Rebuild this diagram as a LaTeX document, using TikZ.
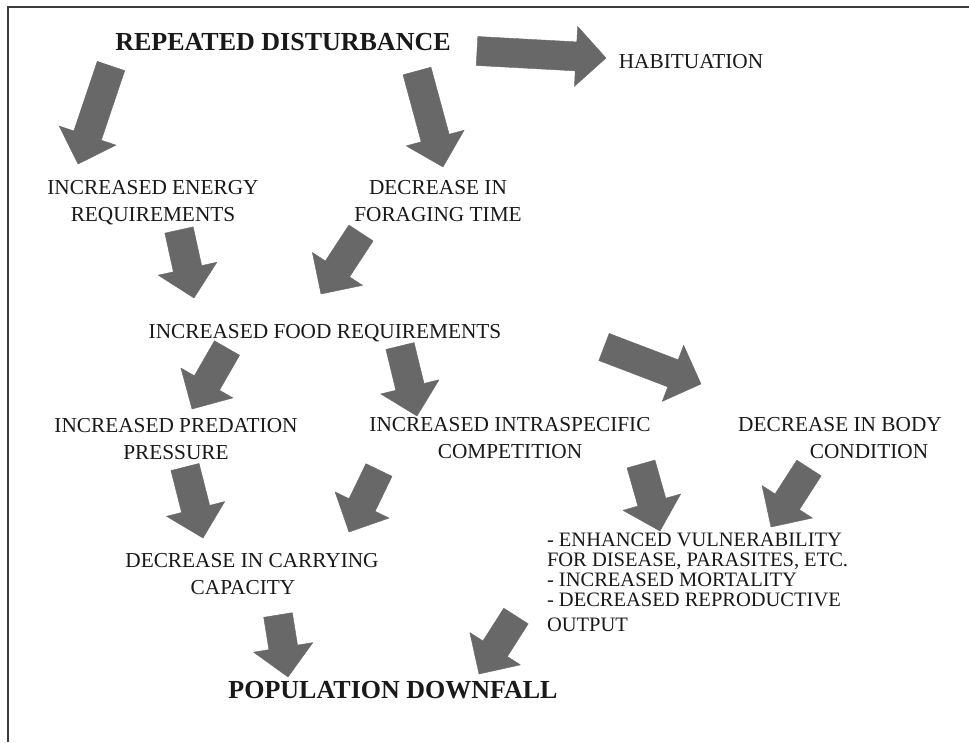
\documentclass[tikz,border=0pt]{standalone}
\usepackage{fontspec}
\setmainfont{Liberation Serif}
\usetikzlibrary{calc}
\definecolor{arrowgray}{RGB}{104,104,104}
\definecolor{textcol}{RGB}{25,25,25}
\definecolor{framecol}{RGB}{60,60,60}
\tikzset{
  lbl/.style={inner sep=0pt, outer sep=0pt, text=textcol, font=\fontsize{21.3}{27}\selectfont, align=center, anchor=north},
  ttl/.style={lbl, font=\fontsize{26}{30}\selectfont\bfseries},
  listlbl/.style={inner sep=0pt, outer sep=0pt, text=textcol, font=\fontsize{20.5}{20}\selectfont, align=left, anchor=north west},
  blk/.style={fill=arrowgray, draw=arrowgray, line width=0.4pt, line join=round},
  framestyle/.style={draw=framecol, line width=1.3pt},
}
\newcommand{\blkarrow}[2]{%
  \coordinate (ban) at ($(#2)!30pt!(#1)$);
  \fill[blk] ($(#1)!14.5pt!90:(#2)$) -- ($(ban)!14.5pt!90:(#2)$) -- ($(ban)!30pt!90:(#2)$) -- (#2)
    -- ($(ban)!30pt!-90:(#2)$) -- ($(ban)!14.5pt!-90:(#2)$) -- ($(#1)!14.5pt!-90:(#2)$) -- cycle;
}
\begin{document}
\begin{tikzpicture}[x=1pt, y=-1pt]
\useasboundingbox (0,0) rectangle (969,742);
\fill[white] (0,0) rectangle (969,742);
% frame
\coordinate (fr1) at (8,742);
\coordinate (fr2) at (8,7);
\coordinate (fr3) at (969,7);
\draw[framestyle] (fr1) -- (fr2) -- (fr3);

% labels
\node[ttl] (rd) at (283,33) {REPEATED DISTURBANCE};
\node[lbl] (hab) at (691,54) {HABITUATION};
\node[lbl] (ier) at (153,180) {INCREASED ENERGY\\REQUIREMENTS};
\node[lbl] (dft) at (438,180) {DECREASE IN\\FORAGING TIME};
\node[lbl] (ifr) at (325,324) {INCREASED FOOD REQUIREMENTS};
\node[lbl] (ipp) at (176,418) {INCREASED PREDATION\\PRESSURE};
\node[lbl] (iic) at (510,417) {INCREASED INTRASPECIFIC\\COMPETITION};
\node[lbl] (dbc) at (840,417) {DECREASE IN BODY\\\hspace*{58pt}CONDITION};
\node[lbl] (dcc) at (252,553) {DECREASE IN CARRYING\\CAPACITY\hspace*{18pt}};
\node[listlbl] (ev) at (547,533) {- ENHANCED VULNERABILITY\\FOR DISEASE, PARASITES, ETC.\\- INCREASED MORTALITY\\- DECREASED REPRODUCTIVE\\[5pt]OUTPUT};
\node[ttl] (pd) at (393,681) {POPULATION DOWNFALL};

% arrow end points
\coordinate (a1s) at (111,66);  \coordinate (a1e) at (78,164);
\coordinate (a2s) at (417,71);  \coordinate (a2e) at (443,167);
\coordinate (a3s) at (477,51);  \coordinate (a3e) at (606,58);
\coordinate (a4s) at (179,230); \coordinate (a4e) at (194,298);
\coordinate (a5s) at (361,233); \coordinate (a5e) at (321,294);
\coordinate (a6s) at (227,348); \coordinate (a6e) at (192,409);
\coordinate (a7s) at (400,346); \coordinate (a7e) at (417,416);
\coordinate (a8s) at (604,347); \coordinate (a8e) at (701,384);
\coordinate (a9s) at (185,467); \coordinate (a9e) at (203,538);
\coordinate (a10s) at (379,470); \coordinate (a10e) at (349,532);
\coordinate (a11s) at (641,464); \coordinate (a11e) at (660,531);
\coordinate (a12s) at (809,468); \coordinate (a12e) at (771,527);
\coordinate (a13s) at (278,615); \coordinate (a13e) at (288,677);
\coordinate (a14s) at (516,616); \coordinate (a14e) at (479,674);

\blkarrow{a1s}{a1e}
\blkarrow{a2s}{a2e}
\blkarrow{a3s}{a3e}
\blkarrow{a4s}{a4e}
\blkarrow{a5s}{a5e}
\blkarrow{a6s}{a6e}
\blkarrow{a7s}{a7e}
\blkarrow{a8s}{a8e}
\blkarrow{a9s}{a9e}
\blkarrow{a10s}{a10e}
\blkarrow{a11s}{a11e}
\blkarrow{a12s}{a12e}
\blkarrow{a13s}{a13e}
\blkarrow{a14s}{a14e}
\end{tikzpicture}
\end{document}
